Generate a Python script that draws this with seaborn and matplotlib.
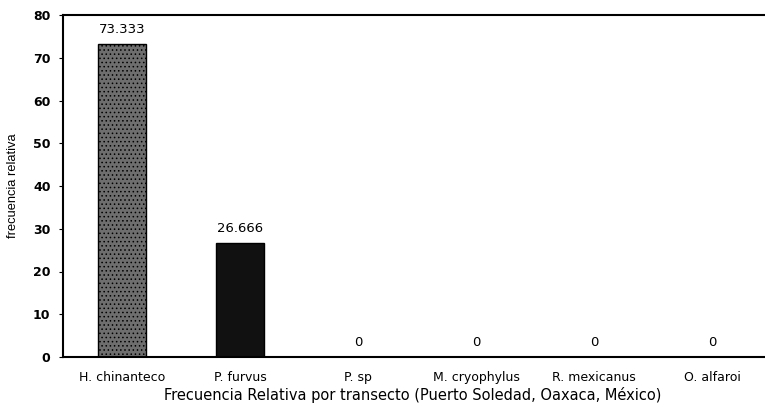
import matplotlib
matplotlib.use("Agg")
import matplotlib.pyplot as plt
import seaborn as sns
import pandas as pd

categories = ["H. chinanteco", "P. furvus", "P. sp", "M. cryophylus", "R. mexicanus", "O. alfaroi"]
values = [73.333, 26.666, 0, 0, 0, 0]
value_labels = ["73.333", "26.666", "0", "0", "0", "0"]
yticks = [0, 10, 20, 30, 40, 50, 60, 70, 80]

sns.set_theme(style="white")
plt.rcParams['font.family'] = ['DejaVu Sans']
plt.rcParams['hatch.color'] = "#cfcfcf"
plt.rcParams['hatch.linewidth'] = 0.6

df = pd.DataFrame({"especie": categories, "frecuencia": values})

fig = plt.figure(figsize=(7.65, 4.04), dpi=100)
ax = fig.add_axes([63/765, 1-357/404, (771-63)/765, (357-15)/404])

colors = ["#6e6e6e", "#111111", "#111111", "#111111", "#111111", "#111111"]
sns.barplot(data=df, x="especie", y="frecuencia", hue="especie", palette=colors,
            legend=False, width=0.41, ax=ax, edgecolor="black", linewidth=1.0, saturation=1)

p0 = ax.patches[0]
p0.set_hatch("....")
p0.set_edgecolor("black")

for i, (v, lab) in enumerate(zip(values, value_labels)):
    ax.text(i, v + 1.8, lab, ha="center", va="bottom", fontsize=9.5, color="black")

ax.set_ylim(0, 80)
ax.set_xlim(-0.5, 5.5)
ax.set_yticks(yticks)
ax.set_yticklabels([str(t) for t in yticks], fontsize=9, fontweight="bold", color="black")
ax.tick_params(axis="x", labelsize=9, colors="black", length=0, pad=10)
ax.tick_params(axis="y", left=True, length=3, width=0.8, colors="black", pad=6)
ax.set_xlabel("Frecuencia Relativa por transecto (Puerto Soledad, Oaxaca, México)",
              fontsize=10.5, va="top", color="black")
ax.xaxis.set_label_coords(0.5 - 4/708, -(387 - 357) / 342)
ax.set_ylabel("frecuencia relativa", fontsize=9.3, labelpad=10, color="black",
              family=['Liberation Sans', 'DejaVu Sans'])

for s in ["left", "bottom", "top"]:
    ax.spines[s].set_visible(True)
    ax.spines[s].set_color("black")
    ax.spines[s].set_linewidth(1.5)
ax.spines["right"].set_visible(False)

fig.savefig("out.png", dpi=100)
